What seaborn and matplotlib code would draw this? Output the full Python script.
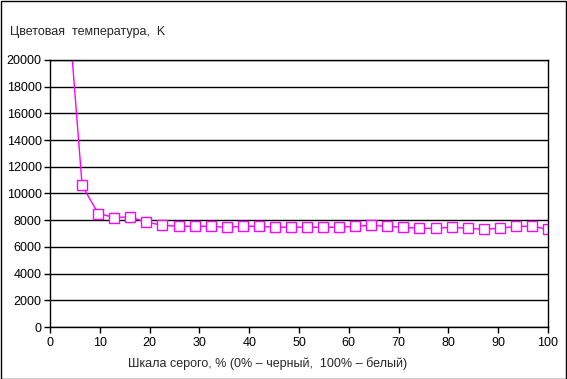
import matplotlib
matplotlib.use("Agg")
import matplotlib.pyplot as plt
import seaborn as sns
import pandas as pd
import numpy as np

step_index = list(range(1, 32))
gray_pct = [k * 100 / 31 for k in step_index]
color_temp = [26000, 10600, 8500, 8200, 8250, 7850, 7620, 7540, 7540, 7540,
              7470, 7540, 7540, 7470, 7490, 7470, 7470, 7470, 7540, 7620,
              7540, 7470, 7390, 7390, 7470, 7390, 7320, 7390, 7540, 7540, 7320]
y_ticks = list(range(0, 20001, 2000))
x_ticks = list(range(0, 101, 10))
y_title = "Цветовая  температура,  K"
x_title = "Шкала серого, % (0% – черный,  100% – белый)"

sns.set_theme(style="white")
plt.rcParams['font.family'] = ['Liberation Sans', 'DejaVu Sans']

df = pd.DataFrame({"x": gray_pct, "y": color_temp})

W, H = 567, 379
fig = plt.figure(figsize=(W / 100, H / 100), dpi=100)
ax = fig.add_axes([50 / W, 1 - 327 / H, 498 / W, 267 / H])

sns.lineplot(data=df, x="x", y="y", ax=ax, color="#FF00FF", linewidth=1.0,
             marker="s", markersize=6.5, markerfacecolor="white",
             markeredgecolor="#FF00FF", markeredgewidth=1.0)

ax.set_xlim(0, 100)
ax.set_ylim(0, 20000)
ax.set_xticks(x_ticks)
ax.set_yticks(y_ticks)
ax.set_xticklabels([str(v) for v in x_ticks], fontsize=9)
ax.set_yticklabels([str(v) for v in y_ticks], fontsize=9)
ax.yaxis.grid(True, color="black", linewidth=1.0)
ax.xaxis.grid(False)
for s in ax.spines.values():
    s.set_color("black")
    s.set_linewidth(1.0)
ax.tick_params(axis="both", which="major", length=4, width=1, color="black",
               direction="out", pad=2, labelcolor="black")
ax.tick_params(axis="x", bottom=True, pad=3)
ax.tick_params(axis="y", left=True)
ax.set_xlabel("")
ax.set_ylabel("")

fig.text(10 / W, 1 - 32 / H, y_title, fontsize=9, va="center", ha="left")
fig.text(268 / W, 1 - 364 / H, x_title, fontsize=9, va="center", ha="center")

border = plt.Rectangle((0.5 / W, 0.5 / H), 1 - 1.5 / W, 1 - 1.5 / H,
                       transform=fig.transFigure, fill=False,
                       edgecolor="black", linewidth=1.0)
fig.patches.append(border)

fig.savefig("out.png", dpi=100)
